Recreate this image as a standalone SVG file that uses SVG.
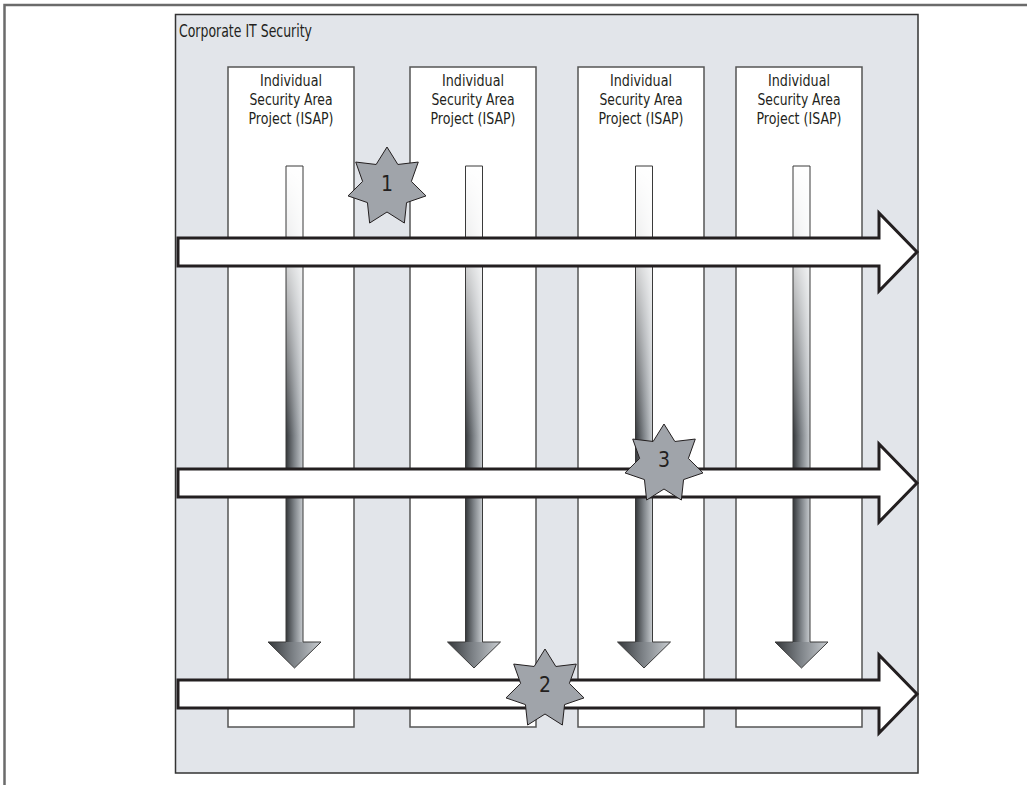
<svg xmlns="http://www.w3.org/2000/svg" xmlns:xlink="http://www.w3.org/1999/xlink" width="1027" height="785" viewBox="0 0 1027 785">
<style>
.frame{fill:none;stroke:#6b6b6b;stroke-width:2.5}
.panel{fill:#e2e5ea;stroke:#333;stroke-width:1.5}
.col{fill:#fff;stroke:#555;stroke-width:1.5}
.harrow{fill:#fff;stroke:#231f20;stroke-width:3;stroke-linejoin:miter}
.dfill{fill:url(#hgrad)}
.dfade{fill:url(#vfade)}
.doutline{fill:none;stroke:#3a3a3a;stroke-width:1}
.star{fill:#a0a4aa;stroke:#231f20;stroke-width:1}
.lbl{font-family:"Liberation Sans Narrow","DejaVu Sans Condensed","Liberation Sans",sans-serif;fill:#231f20}
.hdr{font-size:16.5px;text-anchor:middle}
.title{font-size:17px}
.num{font-size:21px;text-anchor:middle}
</style>
<defs>
<linearGradient id="hgrad" x1="0" y1="0" x2="1" y2="0">
<stop offset="0" stop-color="#34373a"/>
<stop offset="0.5" stop-color="#80858a"/>
<stop offset="1" stop-color="#c8ccd0"/>
</linearGradient>
<linearGradient id="vfade" x1="0" y1="0" x2="0" y2="1">
<stop offset="0" stop-color="#fff" stop-opacity="1"/>
<stop offset="0.25" stop-color="#fff" stop-opacity="0.92"/>
<stop offset="1" stop-color="#fff" stop-opacity="0"/>
</linearGradient>
<g id="darrow">
<rect class="dfill" x="-8.5" y="166" width="17" height="476"/>
<polygon class="dfill" points="-26.5,642 26.5,642 0,668"/>
<rect class="dfade" x="-8.5" y="166" width="17" height="270"/>
<path class="doutline" d="M-8.5,166 L8.5,166 L8.5,642 L26.5,642 L0,668 L-26.5,642 L-8.5,642 Z"/>
</g>
<polygon id="star" class="star" points="0,-40 10.85,-22.53 31.27,-24.94 24.37,-5.56 39,8.9 19.55,15.59 17.36,36.04 0,25 -17.36,36.04 -19.55,15.59 -39,8.9 -24.37,-5.56 -31.27,-24.94 -10.85,-22.53"/>
</defs>

<path class="frame" d="M4.5,785 L4.5,5 L1027,5"/>

<g id="corporate-it-security">
<rect class="panel" x="175.5" y="14.5" width="742.5" height="758.5"/>
<text class="lbl title" x="179" y="37" textLength="133" lengthAdjust="spacingAndGlyphs">Corporate IT Security</text>
</g>

<g id="isap-1">
<rect class="col" x="228" y="67" width="126" height="660"/>
<text class="lbl hdr" x="291" y="86" textLength="62" lengthAdjust="spacingAndGlyphs">Individual</text>
<text class="lbl hdr" x="291" y="105" textLength="83" lengthAdjust="spacingAndGlyphs">Security Area</text>
<text class="lbl hdr" x="291" y="124" textLength="85" lengthAdjust="spacingAndGlyphs">Project  (ISAP)</text>
</g>
<g id="isap-2">
<rect class="col" x="410" y="67" width="126" height="660"/>
<text class="lbl hdr" x="473" y="86" textLength="62" lengthAdjust="spacingAndGlyphs">Individual</text>
<text class="lbl hdr" x="473" y="105" textLength="83" lengthAdjust="spacingAndGlyphs">Security Area</text>
<text class="lbl hdr" x="473" y="124" textLength="85" lengthAdjust="spacingAndGlyphs">Project  (ISAP)</text>
</g>
<g id="isap-3">
<rect class="col" x="578" y="67" width="126" height="660"/>
<text class="lbl hdr" x="641" y="86" textLength="62" lengthAdjust="spacingAndGlyphs">Individual</text>
<text class="lbl hdr" x="641" y="105" textLength="83" lengthAdjust="spacingAndGlyphs">Security Area</text>
<text class="lbl hdr" x="641" y="124" textLength="85" lengthAdjust="spacingAndGlyphs">Project  (ISAP)</text>
</g>
<g id="isap-4">
<rect class="col" x="736" y="67" width="126" height="660"/>
<text class="lbl hdr" x="799" y="86" textLength="62" lengthAdjust="spacingAndGlyphs">Individual</text>
<text class="lbl hdr" x="799" y="105" textLength="83" lengthAdjust="spacingAndGlyphs">Security Area</text>
<text class="lbl hdr" x="799" y="124" textLength="85" lengthAdjust="spacingAndGlyphs">Project  (ISAP)</text>
</g>

<g id="connectors">
<use xlink:href="#darrow" href="#darrow" x="294.5" y="0"/>
<use xlink:href="#darrow" href="#darrow" x="474" y="0"/>
<use xlink:href="#darrow" href="#darrow" x="644" y="0"/>
<use xlink:href="#darrow" href="#darrow" x="801.5" y="0"/>
<polygon class="harrow" points="178,238 879,238 879,213 917,252 879,291 879,266 178,266"/>
<polygon class="harrow" points="178,469 879,469 879,444 917,483 879,522 879,497 178,497"/>
<polygon class="harrow" points="178,680 879,680 879,655 917,694 879,733 879,708 178,708"/>
</g>

<g id="star-1">
<use xlink:href="#star" href="#star" x="387" y="187"/>
<text class="lbl num" x="387" y="191">1</text>
</g>
<g id="star-2">
<use xlink:href="#star" href="#star" x="545" y="689"/>
<text class="lbl num" x="545" y="692">2</text>
</g>
<g id="star-3">
<use xlink:href="#star" href="#star" x="664" y="464"/>
<text class="lbl num" x="664" y="467">3</text>
</g>
</svg>
